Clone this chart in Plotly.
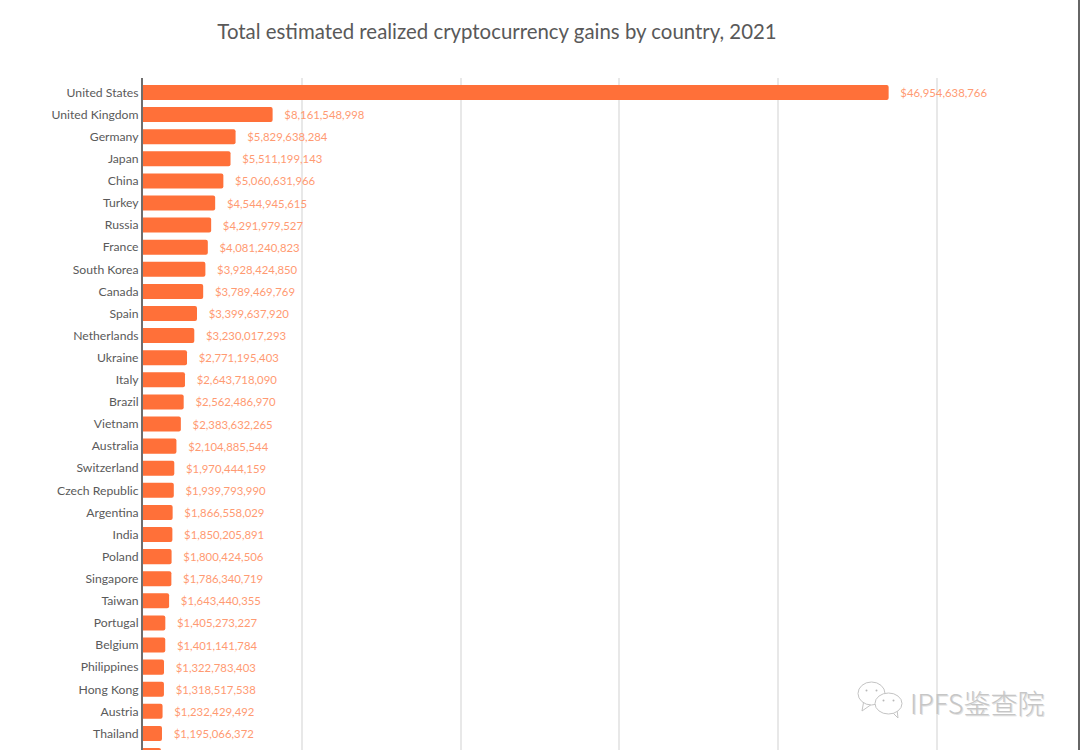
import plotly.graph_objects as go

countries = ["United States", "United Kingdom", "Germany", "Japan", "China", "Turkey", "Russia", "France",
             "South Korea", "Canada", "Spain", "Netherlands", "Ukraine", "Italy", "Brazil", "Vietnam",
             "Australia", "Switzerland", "Czech Republic", "Argentina", "India", "Poland", "Singapore",
             "Taiwan", "Portugal", "Belgium", "Philippines", "Hong Kong", "Austria", "Thailand", " "]
gains = [46954638766, 8161548998, 5829638284, 5511199143, 5060631966, 4544945615, 4291979527, 4081240823,
         3928424850, 3789469769, 3399637920, 3230017293, 2771195403, 2643718090, 2562486970, 2383632265,
         2104885544, 1970444159, 1939793990, 1866558029, 1850205891, 1800424506, 1786340719,
         1643440355, 1405273227, 1401141784, 1322783403, 1318517538, 1232429492, 1195066372, 1130000000]
grid_values = [10e9, 20e9, 30e9, 40e9, 50e9]
title_text = "Total estimated realized cryptocurrency gains by country, 2021"
watermark = "IPFS鉴查院"

W, H = 1080, 750
L, T = 143, 78
def px(x): return (x - L) / (W - L)
def py(y): return 1 - (y - T) / (H - T)

labels = ["\u00a0\u00a0\u00a0" + f"${v:,}" for v in gains]
labels[-1] = ""  # the last bar is cut by the picture's lower edge; its value cannot be read

fig = go.Figure(go.Bar(
    x=gains, y=countries, orientation="h",
    marker=dict(color="#FF7039", cornerradius=2, line=dict(width=0)),
    width=0.68,
    text=labels,
    textposition="outside", cliponaxis=True, constraintext="none",
    textfont=dict(family="Lato", size=11.35, color="#FF9A72"),
    hoverinfo="skip",
))

def path_px(points):
    return "M " + " L ".join(f"{px(x):.5f} {py(y):.5f}" for x, y in points) + " Z"

ICON = "#c4c4c4"
shapes = []
for (x0, y0, x1, y1), tail in [((858, 682, 885, 705), [(864, 700), (862, 711), (872, 704)]),
                               ((875, 693, 902, 714), [(891, 711), (898, 718), (897, 709)])]:
    shapes.append(dict(type="path", xref="paper", yref="paper", path=path_px(tail),
                       fillcolor="white", line=dict(color=ICON, width=1), layer="above"))
    shapes.append(dict(type="circle", xref="paper", yref="paper", x0=px(x0), x1=px(x1), y0=py(y1), y1=py(y0),
                       fillcolor="white", line=dict(color=ICON, width=1), layer="above"))
    for ex in ((x0 + x1) / 2 - 5, (x0 + x1) / 2 + 5):
        ey = (y0 + y1) / 2 - 3
        shapes.append(dict(type="circle", xref="paper", yref="paper", x0=px(ex - 1), x1=px(ex + 1),
                           y0=py(ey + 1), y1=py(ey - 1), fillcolor="#b8b8b8", line=dict(width=0), layer="above"))
shapes.append(dict(type="line", xref="paper", yref="paper", x0=px(1079), x1=px(1079), y0=0, y1=py(0),
                   line=dict(color="#333333", width=1.5), layer="above"))

fig.update_layout(
    width=W, height=H, margin=dict(l=L, r=0, t=T, b=0, pad=0),
    paper_bgcolor="white", plot_bgcolor="white", showlegend=False,
    title=dict(text=title_text, x=497/W, xref="container", xanchor="center", y=1-32/H, yanchor="middle",
               font=dict(family="Lato", size=20.4, color="#595959")),
    xaxis=dict(range=[0, (W-L)/15.88*1e9], tickvals=grid_values, showticklabels=False, showgrid=True,
               gridcolor="#e8e8e8", gridwidth=1.5, zeroline=False, showline=False, ticks=""),
    yaxis=dict(type="category", categoryorder="array", categoryarray=countries,
               range=[29.75, -0.656], showline=True, linecolor="#6e6e6e", linewidth=2, ticks="",
               tickfont=dict(family="Lato", size=12.2, color="#5a5a5a"), ticklabelstandoff=0, showgrid=False),
    shapes=shapes,
    annotations=[dict(text=watermark, xref="paper", yref="paper", x=px(1046), y=py(702), xanchor="right",
                      yanchor="middle", showarrow=False,
                      font=dict(family="Noto Sans CJK SC", size=27, color="#c6c6c6", weight=300,
                                shadow="1px 1px 0px #e2e2e2"))],
)
fig.write_html("out.html", config={"displayModeBar": False},
               post_script="document.body.style.margin='0';window.dispatchEvent(new Event('resize'));")
